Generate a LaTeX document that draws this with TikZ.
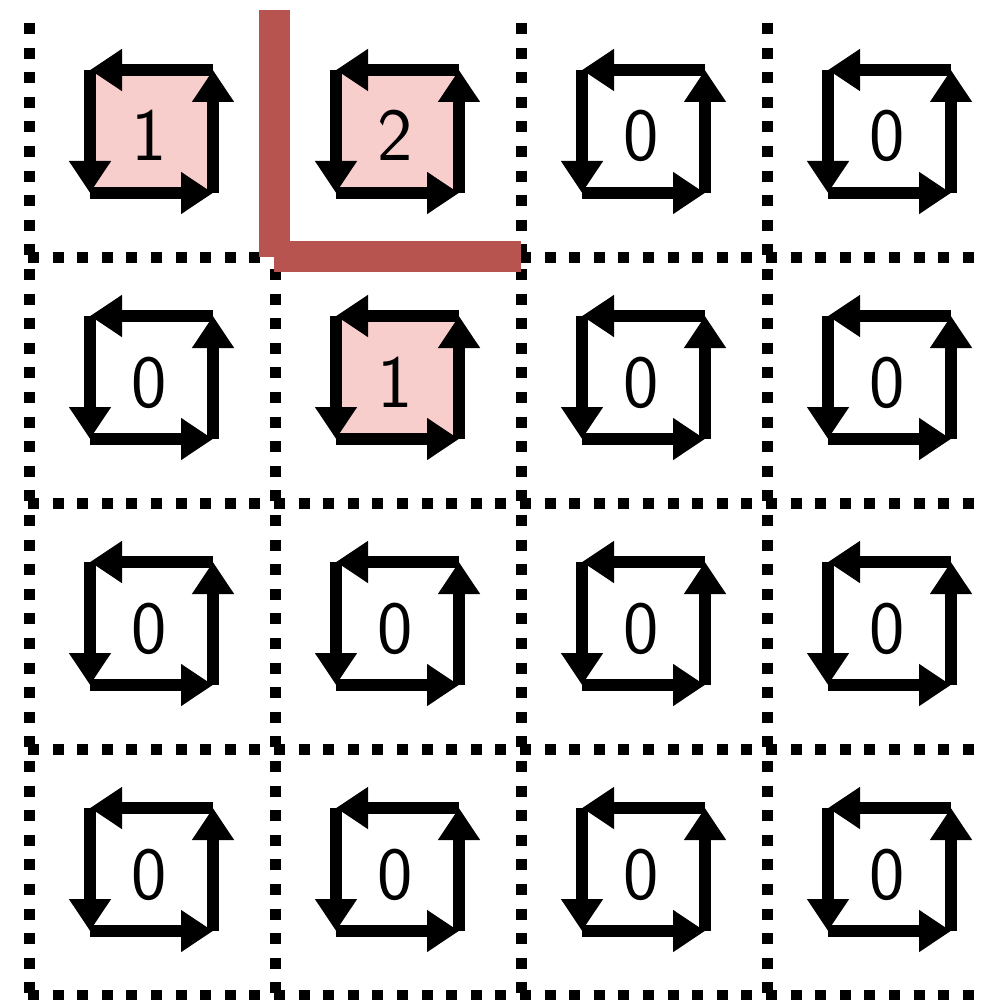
\documentclass[tikz,border=0pt]{standalone}
\usepackage{fontspec}
\usetikzlibrary{arrows.meta}
\definecolor{cellfill}{HTML}{F8CECC}
\definecolor{wallred}{HTML}{B85450}
\tikzset{
  gridline/.style={line width=11pt, dash pattern=on 11pt off 13.6pt},
  sidearrow/.style={line width=12pt, -{Triangle[length=32pt,width=40pt]}},
  wall/.style={line width=31pt, draw=wallred, line cap=butt},
  digit/.style={anchor=base, font=\sffamily\fontsize{75}{80}\selectfont, inner sep=0pt, text=black},
}
\begin{document}
\begin{tikzpicture}[x=1pt,y=-1pt]
\useasboundingbox (0,0) rectangle (984,1000);
% dotted grid
\foreach \i in {0,...,3} {
  \coordinate (vtop\i) at (29+246*\i,23);
  \coordinate (vbot\i) at (29+246*\i,1000);
  \draw[gridline] (vtop\i) -- (vbot\i);
}
\foreach \j in {1,...,4} {
  \coordinate (hl\j) at (28,11+246*\j);
  \coordinate (hr\j) at (984,11+246*\j);
  \draw[gridline] (hl\j) -- (hr\j);
}
% cells: row/col/value/filled
\foreach \r/\c/\v/\f in {0/0/1/1,0/1/2/1,0/2/0/0,0/3/0/0,
                         1/0/0/0,1/1/1/1,1/2/0/0,1/3/0/0,
                         2/0/0/0,2/1/0/0,2/2/0/0,2/3/0/0,
                         3/0/0/0,3/1/0/0,3/2/0/0,3/3/0/0} {
  \pgfmathsetmacro\cx{151.5+246*\c}
  \pgfmathsetmacro\cy{131.5+246*\r}
  \coordinate (tl\r\c) at (\cx-61.5,\cy-61.5);
  \coordinate (tr\r\c) at (\cx+61.5,\cy-61.5);
  \coordinate (bl\r\c) at (\cx-61.5,\cy+61.5);
  \coordinate (br\r\c) at (\cx+61.5,\cy+61.5);
  \ifnum\f=1 \fill[cellfill] (tl\r\c) rectangle (br\r\c); \fi
  \draw[sidearrow] (tr\r\c) -- (tl\r\c);
  \draw[sidearrow] (tl\r\c) -- (bl\r\c);
  \draw[sidearrow] (bl\r\c) -- (br\r\c);
  \draw[sidearrow] (br\r\c) -- (tr\r\c);
  \node[digit] (n\r\c) at (\cx-2,\cy+29.5) {\v};
}
% red wall
\coordinate (w1) at (274.5,10);
\coordinate (w2) at (274.5,257);
\coordinate (w3) at (274,256.5);
\coordinate (w4) at (521,256.5);
\draw[wall] (w1) -- (w2);
\draw[wall] (w3) -- (w4);
\end{tikzpicture}
\end{document}
